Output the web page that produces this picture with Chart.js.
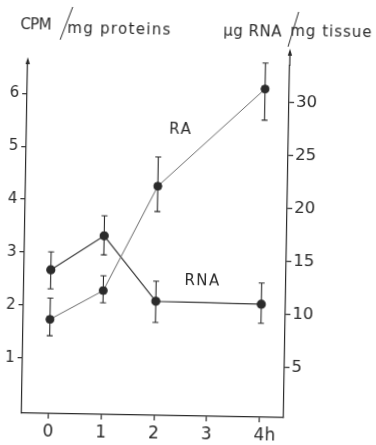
<!DOCTYPE html>
<html>
<head>
<meta charset="utf-8">
<script src="https://cdn.jsdelivr.net/npm/chart.js@4"></script>
<style>
  html, body { margin: 0; padding: 0; background: #fff; overflow: hidden; }
  /* the scanned figure sits slightly turned on the page */
  #chart { display: block; transform: rotate(1deg); transform-origin: 188px 222px; }
</style>
</head>
<body>
<canvas id="chart" width="376" height="445"></canvas>
<script>
const hours = [0, 1, 2, 4];
const hourTicks = [0, 1, 2, 3, 4];
const leftTicks = [1, 2, 3, 4, 5, 6];
const rightTicks = [5, 10, 15, 20, 25, 30];

// RA - CPM / mg proteins (left axis)
const raValues = [1.74, 2.30, 4.29, 6.16];
const raHigh = [2.14, 2.58, 4.84, 6.65];
const raLow = [1.43, 2.07, 3.81, 5.57];

// RNA - µg RNA / mg tissue (right axis)
const rnaValues = [13.8, 17.1, 11.0, 10.9];
const rnaHigh = [15.5, 19.0, 12.9, 12.9];
const rnaLow = [12.0, 15.3, 9.0, 9.1];

const ink = '#2b2b2b';
const font = "'DejaVu Sans', sans-serif";

Chart.defaults.font.family = font;
Chart.defaults.color = ink;

const errorBars = {
  id: 'errorBars',
  beforeDatasetsDraw(chart) {
    const ctx = chart.ctx;
    chart.data.datasets.forEach((ds, i) => {
      const meta = chart.getDatasetMeta(i);
      const scale = chart.scales[ds.yAxisID];
      ctx.save();
      ctx.strokeStyle = ink;
      ctx.lineWidth = 1.1;
      meta.data.forEach((pt, j) => {
        const top = scale.getPixelForValue(ds.errHigh[j]);
        const bot = scale.getPixelForValue(ds.errLow[j]);
        ctx.beginPath();
        ctx.moveTo(pt.x, top);
        ctx.lineTo(pt.x, bot);
        ctx.moveTo(pt.x - 3, top);
        ctx.lineTo(pt.x + 3, top);
        ctx.moveTo(pt.x - 3, bot);
        ctx.lineTo(pt.x + 3, bot);
        ctx.stroke();
      });
      ctx.restore();
    });
  }
};

function arrowHead(ctx, x, tipY) {
  ctx.beginPath();
  ctx.moveTo(x, tipY);
  ctx.lineTo(x - 2.2, tipY + 7);
  ctx.lineTo(x + 2.2, tipY + 7);
  ctx.closePath();
  ctx.fill();
}

const decorations = {
  id: 'decorations',
  afterDraw(chart) {
    const ctx = chart.ctx;
    const area = chart.chartArea;
    const { x, y, y1 } = chart.scales;
    ctx.save();
    ctx.fillStyle = ink;
    ctx.strokeStyle = ink;
    ctx.lineWidth = 1.2;

    // axis arrows
    arrowHead(ctx, area.left, area.top - 4);
    ctx.beginPath();
    ctx.moveTo(area.right, area.top);
    ctx.lineTo(area.right, 50);
    ctx.stroke();
    arrowHead(ctx, area.right, 47);

    // axis titles
    ctx.textBaseline = 'alphabetic';
    ctx.textAlign = 'left';
    ctx.font = '15px ' + font;
    ctx.letterSpacing = '-0.6px';
    ctx.fillText('CPM', 17, 32);
    ctx.letterSpacing = '1.3px';
    ctx.fillText('mg proteins', 64, 35);
    ctx.letterSpacing = '0.5px';
    ctx.fillText('µg RNA', 220, 34.5);
    ctx.letterSpacing = '1px';
    ctx.fillText('mg tissue', 287, 33.5);
    ctx.letterSpacing = '0px';
    ctx.lineWidth = 1;
    ctx.beginPath();
    ctx.moveTo(69, 9);
    ctx.lineTo(57, 42);
    ctx.moveTo(295, 10);
    ctx.lineTo(285, 45);
    ctx.stroke();

    // series labels
    ctx.textAlign = 'center';
    ctx.textBaseline = 'middle';
    ctx.letterSpacing = '1.5px';
    ctx.fillText('RA', x.getPixelForValue(2.415), y.getPixelForValue(5.36));
    ctx.fillText('RNA', x.getPixelForValue(2.88), y1.getPixelForValue(13.0));
    ctx.restore();
  }
};

function axisStyle(extra) {
  return Object.assign({
    border: { display: true, color: ink, width: 1.2 },
    grid: { drawOnChartArea: false, drawTicks: true, tickLength: 5, color: ink, lineWidth: 1.2 }
  }, extra);
}

new Chart(document.getElementById('chart'), {
  type: 'line',
  data: {
    datasets: [
      {
        label: 'RA',
        data: hours.map((h, i) => ({ x: h, y: raValues[i] })),
        errHigh: raHigh,
        errLow: raLow,
        yAxisID: 'y',
        borderColor: '#6a6a6a',
        borderWidth: 1,
        pointRadius: 4,
        pointBackgroundColor: ink,
        pointBorderColor: ink,
        tension: 0
      },
      {
        label: 'RNA',
        data: hours.map((h, i) => ({ x: h, y: rnaValues[i] })),
        errHigh: rnaHigh,
        errLow: rnaLow,
        yAxisID: 'y1',
        borderColor: '#3a3a3a',
        borderWidth: 1.2,
        pointRadius: 4,
        pointBackgroundColor: ink,
        pointBorderColor: ink,
        tension: 0
      }
    ]
  },
  options: {
    responsive: false,
    animation: false,
    devicePixelRatio: 1,
    clip: false,
    layout: { padding: { top: 64, left: 0, right: 0, bottom: 0 } },
    plugins: { legend: { display: false }, tooltip: { enabled: false } },
    scales: {
      x: axisStyle({
        type: 'linear',
        position: 'bottom',
        min: -0.506,
        max: 4.46,
        afterBuildTicks: s => { s.ticks = hourTicks.map(v => ({ value: v })); },
        afterFit: s => { s.height = 29; },
        ticks: {
          padding: 3,
          font: { size: 17 },
          callback: v => v === 4 ? '\u00a0\u00a04h' : String(v)
        }
      }),
      y: axisStyle({
        type: 'linear',
        position: 'left',
        min: -0.04,
        max: 6.607,
        afterBuildTicks: s => { s.ticks = leftTicks.map(v => ({ value: v })); },
        afterFit: s => { s.width = 25; },
        ticks: { padding: 3, font: { size: 15 } }
      }),
      y1: axisStyle({
        type: 'linear',
        position: 'right',
        min: 0.21,
        max: 33.48,
        afterBuildTicks: s => { s.ticks = rightTicks.map(v => ({ value: v })); },
        afterFit: s => { s.width = 89; },
        ticks: { padding: 2, font: { size: 16.5 } }
      })
    }
  },
  plugins: [errorBars, decorations]
});
</script>
</body>
</html>
